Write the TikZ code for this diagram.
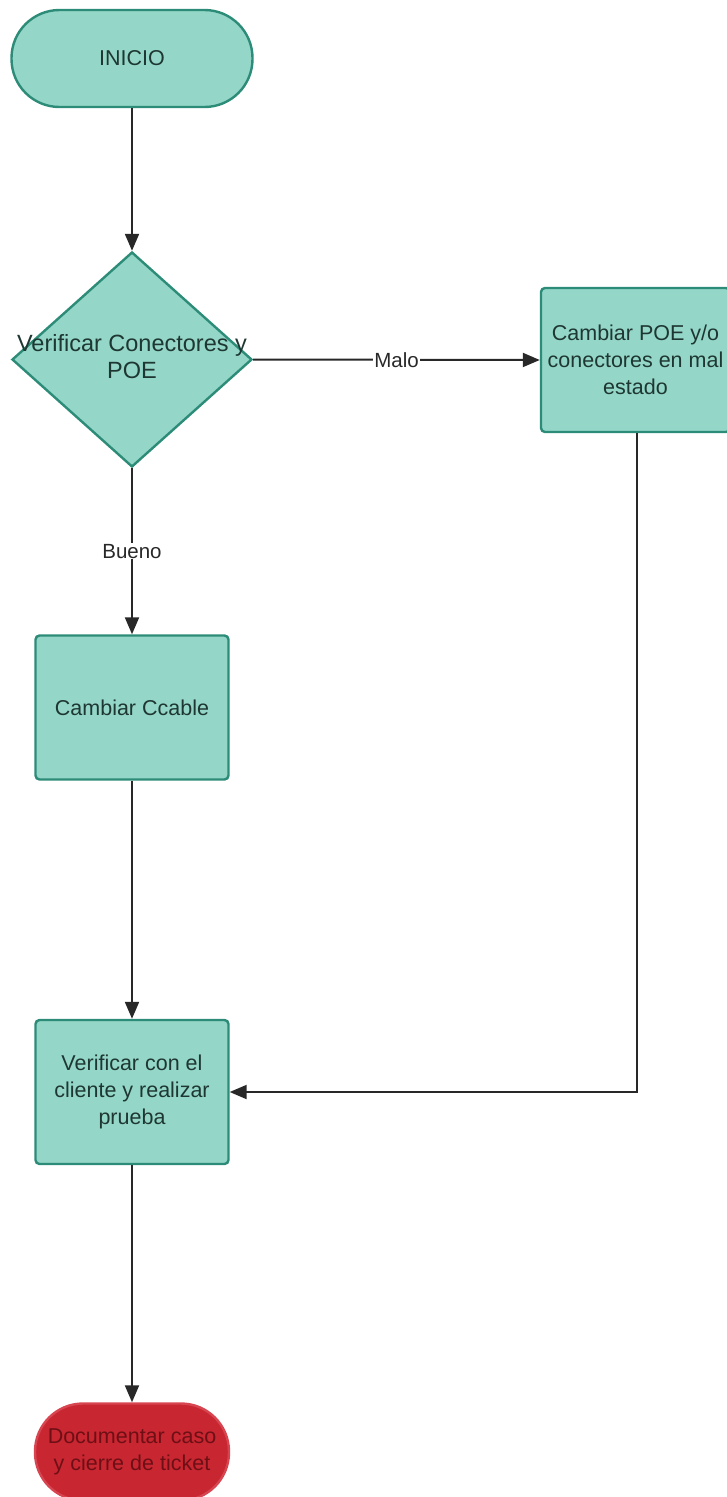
\documentclass[tikz,border=0pt]{standalone}
\usepackage{fontspec}
\setmainfont{Liberation Sans}
\usetikzlibrary{shapes.geometric,arrows.meta}
\definecolor{tealfill}{RGB}{148,214,200}
\definecolor{tealline}{RGB}{44,140,120}
\definecolor{tealtext}{RGB}{30,55,50}
\definecolor{redfill}{RGB}{200,38,48}
\definecolor{redline}{RGB}{215,70,80}
\definecolor{redtext}{RGB}{110,15,22}
\definecolor{linecol}{RGB}{40,40,40}
\tikzset{
  base/.style={font=\fontsize{21.5}{27}\selectfont, align=center, text=tealtext, line width=2.4pt},
  terminal/.style={base, draw=tealline, fill=tealfill, rectangle, rounded corners=48pt, minimum width=241pt, minimum height=97pt},
  endterm/.style={base, draw=redline, fill=redfill, text=redtext, rectangle, rounded corners=48pt, minimum width=194pt, minimum height=97pt},
  procbox/.style={base, draw=tealline, fill=tealfill, rectangle, rounded corners=4pt, minimum width=193pt, minimum height=144pt},
  decision/.style={base, draw=tealline, fill=tealfill, diamond, minimum width=240pt, minimum height=215pt, inner sep=0pt},
  dtext/.style={base, font=\fontsize{23.5}{27}\selectfont, inner sep=0pt},
  flow/.style={draw=linecol, line width=2pt, -{Triangle[length=17pt,width=14pt]}},
  edgelabel/.style={font=\fontsize{20.5}{24}\selectfont, text=linecol, fill=white, inner sep=1pt}
}
\begin{document}
\begin{tikzpicture}[x=1pt,y=-1pt]
\useasboundingbox (0,0) rectangle (726,1497);
\node[terminal] (ini) at (132,58.5) {INICIO};
\node[decision] (dec) at (132,359.5) {};
\node[dtext] (dect) at (132,357) {Verificar Conectores y\\POE};
\node[procbox, minimum width=189pt] (rep) at (635.5,360) {Cambiar POE y/o\\conectores en mal\\estado};
\node[procbox] (cab) at (132,707.5) {Cambiar Ccable};
\node[procbox] (ver) at (132,1092) {Verificar con el\\cliente y realizar\\prueba};
\node[endterm] (fin) at (132,1452) {Documentar caso\\y cierre de ticket};
\draw[flow] (ini) -- (dec);
\draw[flow] (dec.east) -- node[edgelabel] {Malo} (rep.west);
\draw[flow] (dec.south) -- node[edgelabel] {Bueno} (cab.north);
\draw[flow] (cab) -- (ver);
\draw[flow] ([xshift=1.5pt]rep.south) |- (ver.east);
\draw[flow] (ver) -- (fin);
\end{tikzpicture}
\end{document}
